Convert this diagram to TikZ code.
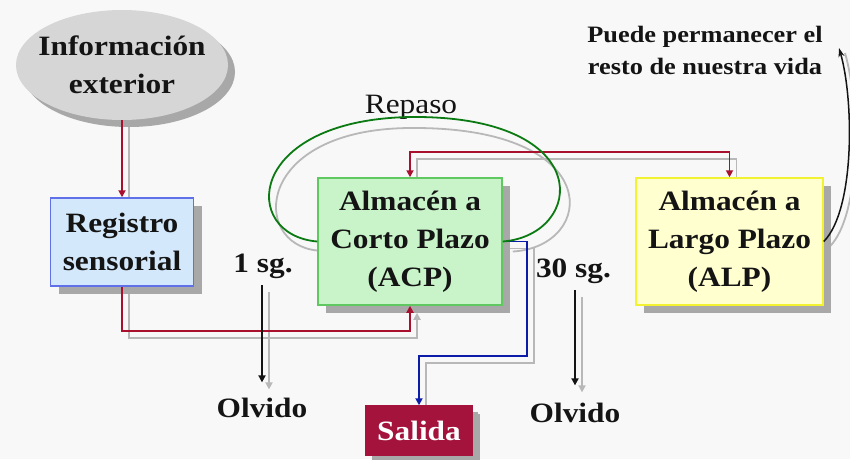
\documentclass[tikz,border=0pt]{standalone}
\usepackage{fontspec}
\setmainfont{Liberation Serif}[FakeStretch=1.12]
\usetikzlibrary{arrows.meta,shapes.geometric,shadows,calc}
\definecolor{bgcol}{HTML}{F8F8F8}
\definecolor{shadowgray}{HTML}{A8A8A8}
\definecolor{lineshadow}{HTML}{B8B8B8}
\definecolor{infofill}{HTML}{D6D6D6}
\definecolor{regfill}{HTML}{D3E8FB}
\definecolor{regdraw}{HTML}{6070E8}
\definecolor{acpfill}{HTML}{C9F3C9}
\definecolor{acpdraw}{HTML}{60C860}
\definecolor{alpfill}{HTML}{FFFFCF}
\definecolor{alpdraw}{HTML}{F2F230}
\definecolor{salfill}{HTML}{A3133C}
\definecolor{redline}{HTML}{A8102E}
\definecolor{blueline}{HTML}{0A1CA8}
\definecolor{greenline}{HTML}{0B7A12}
\definecolor{inkcol}{HTML}{141414}
\pgfdeclarelayer{bglayer}
\pgfsetlayers{bglayer,main}
\begin{document}
\begin{tikzpicture}[x=1pt,y=-1pt,
  bigtext/.style={font=\fontsize{28}{38}\selectfont\bfseries, align=center, text=inkcol},
  boxshadow/.style={drop shadow={shadow xshift=8pt,shadow yshift=-8pt,fill=shadowgray,opacity=1}},
  memnode/.style={rectangle, bigtext, line width=1.5pt, boxshadow, inner sep=0pt},
  lbl/.style={font=\fontsize{28}{34}\selectfont\bfseries, text=inkcol, inner sep=0pt, anchor=base},
  arr/.style={-{Triangle[length=7pt,width=7pt]}},
  redarr/.style={arr, draw=redline, line width=1.8pt},
  bluearr/.style={arr, draw=blueline, line width=1.8pt},
  blackarr/.style={arr, draw=inkcol, line width=1.8pt},
  lshadow/.style={draw=lineshadow, line width=1.8pt, transform canvas={shift={(7pt,-7pt)}}},
]
\begin{pgfonlayer}{bglayer}
  \fill[bgcol] (0,0) rectangle (850,459);
\end{pgfonlayer}
\useasboundingbox (0,0) rectangle (850,459);

% nodes
\node[ellipse, minimum width=212pt, minimum height=110pt, inner sep=0pt, fill=infofill,
      drop shadow={shadow xshift=7pt,shadow yshift=-7pt,fill=shadowgray,opacity=1}]
      (info) at (122,65) {};
\node[bigtext, inner sep=0pt] (infotext) at (info.center) {Información\\exterior};
\node[memnode, fill=regfill, draw=regdraw, minimum width=143pt, minimum height=88pt]
      (reg) at (122,242) {Registro\\sensorial};
\node[memnode, fill=acpfill, draw=acpdraw, minimum width=184pt, minimum height=127pt]
      (acp) at (410,241.5) {Almacén a\\Corto Plazo\\(ACP)};
\node[memnode, fill=alpfill, draw=alpdraw, minimum width=187pt, minimum height=127pt]
      (alp) at (729.5,241.5) {Almacén a\\Largo Plazo\\(ALP)};
\node[memnode, fill=salfill, draw=salfill, text=white, minimum width=106pt, minimum height=49pt,
      drop shadow={shadow xshift=6pt,shadow yshift=-6pt,fill=shadowgray,opacity=1}]
      (sal) at (419,430.5) {Salida};

% labels
\node[lbl, font=\fontsize{28}{34}\selectfont] (repaso) at (411,113) {Repaso};
\node[lbl] (sg1) at (263,272) {1 sg.};
\node[lbl] (sg30) at (573.5,277) {30 sg.};
\node[lbl] (olv1) at (262,417) {Olvido};
\node[lbl] (olv2) at (575,422) {Olvido};
\node[font=\fontsize{23.5}{32}\selectfont\bfseries, align=center, text=inkcol, inner sep=0pt]
      (life) at (705,50) {Puede permanecer el\\resto de nuestra vida};

\coordinate (bend) at (527,356);
\coordinate (lifetip) at (839,48);

% shadows of connectors
\begin{pgfonlayer}{bglayer}
  \draw[lshadow, arr] (info.south) -- (reg.north);
  \draw[lshadow, arr] (reg.south) -- ++(0,44) -| (acp.south);
  \draw[lshadow, arr] (acp.north) -- ++(0,-25) -| (alp.north);
  \draw[lshadow, arr] (acp.east) -| (bend) -| (sal.north);
  \draw[lshadow, arr, shorten <=7pt, shorten >=15pt] (sg1.south -| olv1.north) -- (olv1.north);
  \draw[lshadow, arr, shorten <=7pt, shorten >=17pt] (sg30.south -| olv2.north) -- (olv2.north);
  \draw[draw=lineshadow, line width=1.8pt] ($(acp.west)+(0,9)$) .. controls (250,244) and (254,128) .. (412,128)
        .. controls (608,127) and (596,247) .. ($(acp.east)+(10,10)$);
  \draw[draw=lineshadow, line width=1.8pt, transform canvas={shift={(6pt,-5pt)}}]
        (alp.east) .. controls (855,210) and (854,100) .. (lifetip);
\end{pgfonlayer}

% connectors
\draw[redarr] (info.south) -- (reg.north);
\draw[redarr] (reg.south) -- ++(0,44) -| (acp.south);
\draw[redarr, {Triangle[length=7pt,width=7pt]}-{Triangle[length=7pt,width=7pt]}]
      (acp.north) -- ++(0,-25) -| (alp.north);
\draw[bluearr] (acp.east) -| (bend) -| (sal.north);
\draw[blackarr, shorten <=7pt, shorten >=15pt] (sg1.south -| olv1.north) -- (olv1.north);
\draw[blackarr, shorten <=7pt, shorten >=17pt] (sg30.south -| olv2.north) -- (olv2.north);
\draw[greenline, line width=1.8pt] (acp.west) .. controls (240,235) and (245,120) .. (410,117)
      .. controls (598,115) and (585,235) .. (acp.east);
\draw[inkcol, line width=1.5pt, -{Stealth[length=9pt,width=6pt]}]
      (alp.east) .. controls (855,210) and (854,100) .. (lifetip);
\end{tikzpicture}
\end{document}
